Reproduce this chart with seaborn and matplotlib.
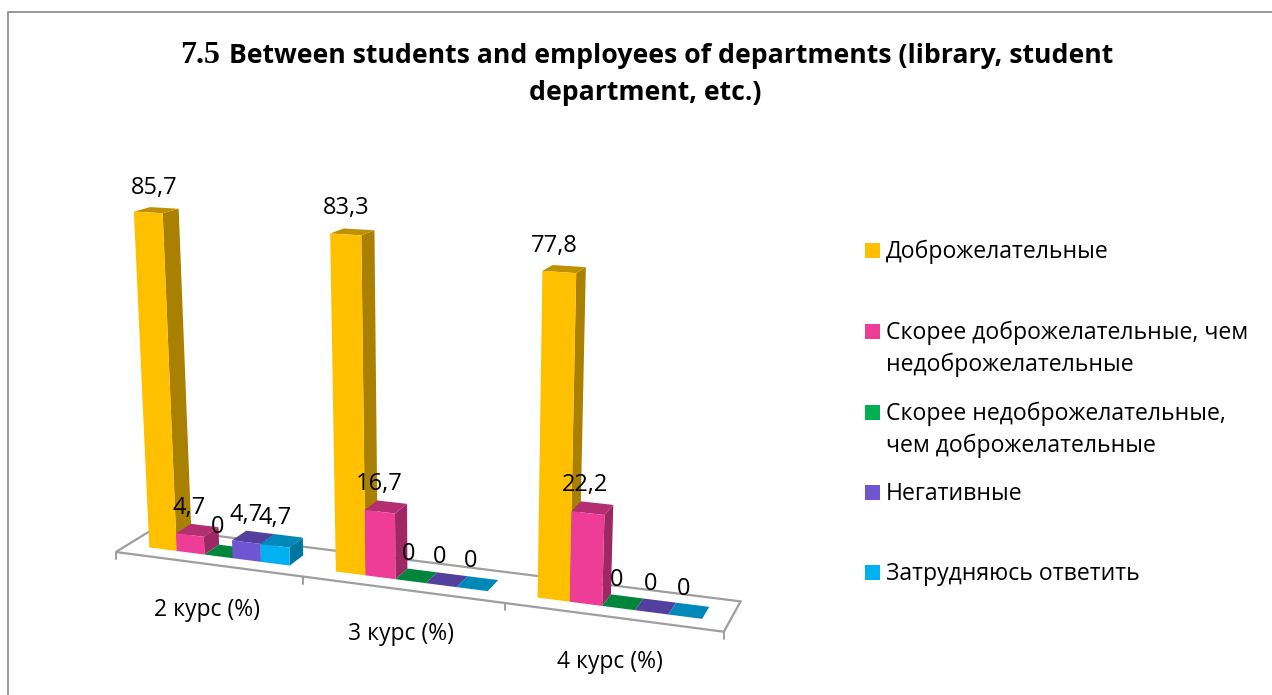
import numpy as np
import pandas as pd
import seaborn as sns
import matplotlib.pyplot as plt
import matplotlib.transforms as mtransforms
from matplotlib.patches import Polygon, Rectangle

categories = ["2 курс (%)", "3 курс (%)", "4 курс (%)"]
series = ["Доброжелательные",
          "Скорее доброжелательные, чем недоброжелательные",
          "Скорее недоброжелательные, чем доброжелательные",
          "Негативные",
          "Затрудняюсь ответить"]
friendly = [85.7, 83.3, 77.8]
rather_friendly = [4.7, 16.7, 22.2]
rather_unfriendly = [0, 0, 0]
negative = [4.7, 0, 0]
no_answer = [4.7, 0, 0]

front_colors = ["#FFC000", "#EE3D96", "#00B050", "#6F55D2", "#00B0F0"]
side_colors = ["#A98000", "#9E2864", "#007535", "#4A388C", "#0076A0"]
top_colors = ["#BF9000", "#B32E72", "#00853C", "#533F9E", "#0088B8"]

W, H = 1272, 695
BAR_SPAN = 0.76
BAR_W = BAR_SPAN / 5
Z_FRONT, Z_BACK = 0.3, 0.7

# the chart is a 3D one, so fit a camera: (x, value, depth) -> picture pixel
# first col is group, second is the bar edge inside the group
bar_calib = [
    (0, 0, 0, Z_FRONT, 148.7, 547.7), (0, 0, 85.7, Z_FRONT, 134, 212), (0, 1, 85.7, Z_FRONT, 163, 213),
    (0, 1, 85.7, Z_BACK, 178.5, 209), (0, 0, 85.7, Z_BACK, 150, 207), (0, 1, 0, Z_FRONT, 176, 550.7),
    (0, 5, 0, Z_FRONT, 291, 565.7), (0, 5, 4.7, Z_FRONT, 291, 546), (0, 5, 4.7, Z_BACK, 303, 538),
    (1, 0, 0, Z_FRONT, 335, 571.7), (1, 0, 83.3, Z_FRONT, 330, 233.3), (1, 1, 83.3, Z_FRONT, 361.7, 235),
    (1, 1, 83.3, Z_BACK, 374, 231), (1, 2, 0, Z_FRONT, 395.7, 578.7), (1, 2, 16.7, Z_FRONT, 395.7, 513),
    (1, 2, 16.7, Z_BACK, 406.7, 504), (1, 5, 0, Z_FRONT, 489, 591), (1, 5, 0, Z_BACK, 498, 580.7),
    (2, 0, 0, Z_FRONT, 536.7, 596.7), (2, 0, 77.8, Z_FRONT, 542, 270.7), (2, 1, 77.8, Z_FRONT, 576.7, 272.7),
    (2, 1, 77.8, Z_BACK, 586, 267), (2, 2, 0, Z_FRONT, 602.7, 605.7), (2, 2, 22.2, Z_FRONT, 604, 515),
    (2, 2, 22.2, Z_BACK, 613, 506), (2, 5, 0, Z_FRONT, 703, 619), (2, 5, 0, Z_BACK, 710, 606.7),
]
floor_calib = [
    (-0.5, 0, 0, 116, 552.7), (0.5, 0, 0, 302, 578), (1.5, 0, 0, 503, 603), (2.5, 0, 0, 723.3, 631.7),
    (2.5, 0, 1, 740, 601.7), (-0.5, 0, 1, 154.7, 527.3),
]
calib = [(g - BAR_SPAN / 2 + BAR_W * k, v, z, u, w) for g, k, v, z, u, w in bar_calib] + floor_calib

rows, rhs = [], []
for x, y, z, u, v in calib:
    rows.append([x, y, z, 1, 0, 0, 0, 0, -u * x, -u * y, -u * z])
    rhs.append(u)
    rows.append([0, 0, 0, 0, x, y, z, 1, -v * x, -v * y, -v * z])
    rhs.append(v)
cam = np.append(np.linalg.lstsq(np.array(rows), np.array(rhs), rcond=None)[0], 1).reshape(3, 4)


def project(x, y, z):
    pts = cam @ np.vstack([x, y, z, np.ones_like(x)])
    return pts[0] / pts[2], pts[1] / pts[2]


class FrontFace(mtransforms.Transform):
    # bars from seaborn stay in data units, this puts them on the front plane
    input_dims = 2
    output_dims = 2
    has_inverse = False

    def transform_non_affine(self, values):
        values = np.asarray(values, dtype=float)
        u, v = project(values[:, 0], values[:, 1], np.full(len(values), Z_FRONT))
        return np.column_stack([u, H - v])


sns.set_theme(style="white")
plt.rcParams['font.family'] = ['Open Sans', 'DejaVu Sans']

df = pd.DataFrame({"course": categories * 5,
                   "series": np.repeat(series, 3),
                   "value": friendly + rather_friendly + rather_unfriendly + negative + no_answer})

fig = plt.figure(figsize=(W / 100, H / 100), dpi=100, facecolor="white")
ax = fig.add_axes([0, 0, 1, 1])
sns.barplot(data=df, x="course", y="value", hue="series", order=categories, hue_order=series,
            palette=front_colors, saturation=1, width=BAR_SPAN, legend=False, ax=ax)
ax.set_axis_off()
bars = sorted(ax.patches, key=lambda p: p.get_x())

px = mtransforms.Affine2D().scale(1, -1).translate(0, H)


def face(points, color, zorder):
    ax.add_patch(Polygon(points, closed=True, facecolor=color, edgecolor="none", transform=px,
                         clip_on=False, zorder=zorder))


# outer frame
ax.plot([8, 8, W], [H, 11.5, 11.5], color="#868686", lw=1.2, transform=px, clip_on=False, zorder=1)

# floor
xs = np.array([-0.5, 2.5, 2.5, -0.5])
zs = np.array([0.0, 0.0, 1.0, 1.0])
fu, fv = project(xs, np.zeros(4), zs)
ax.add_patch(Polygon(np.column_stack([fu, fv]), closed=True, facecolor="white", edgecolor="#9E9E9E", lw=1.6,
                     transform=px, clip_on=False, zorder=2))
tick_x = np.array([-0.5, 0.5, 1.5, 2.5])
tu, tv = project(tick_x, np.zeros(4), np.zeros(4))
for a, b in zip(tu, tv):
    ax.plot([a, a], [b, b + 7], color="#9E9E9E", lw=1.4, transform=px, clip_on=False, zorder=2)

# bars, left to right so the next bar covers the side of the previous one
label_px = [(154, 188), (189, 508), (217.5, 527), (246, 515), (275, 518),
            (346, 208), (379, 484), (409, 554), (440, 557), (471, 561),
            (554, 246), (585, 485), (617, 580), (651, 584), (684, 589)]
front = FrontFace()
for i, bar in enumerate(bars):
    s = i % 5
    z = 10 + i * 3
    x0, x1, val = bar.get_x(), bar.get_x() + bar.get_width(), bar.get_height()
    bar.set_transform(front)
    bar.set_clip_on(False)
    bar.set_linewidth(0)
    bar.set_zorder(z + 2)
    su, sv = project(np.array([x1, x1, x1, x1]), np.array([0, val, val, 0]),
                     np.array([Z_FRONT, Z_FRONT, Z_BACK, Z_BACK]))
    if val > 0:
        face(np.column_stack([su, sv]), side_colors[s], z)
    tu, tv = project(np.array([x0, x1, x1, x0]), np.full(4, val),
                     np.array([Z_FRONT, Z_FRONT, Z_BACK, Z_BACK]))
    face(np.column_stack([tu, tv]), top_colors[s], z + 1)
    ax.text(label_px[i][0], label_px[i][1], f"{val:g}".replace(".", ","), transform=px, fontsize=17,
            color="black", ha="center", va="center", zorder=100)

# category names
cat_px = [(206.5, 610), (400.5, 634), (610, 662)]
for name, (a, b) in zip(categories, cat_px):
    ax.text(a, b, name, transform=px, fontsize=16.5, color="black", ha="center", va="center")

# title, the number is in another font
ax.text(180, 63, "7.5", transform=px, fontsize=23, fontweight="bold", family="Liberation Serif",
        ha="left", va="baseline", color="black")
ax.text(229, 63, "Between students and employees of departments (library, student", transform=px,
        fontsize=19.2, fontweight="bold", ha="left", va="baseline", color="black")
ax.text(645, 100, "department, etc.)", transform=px, fontsize=19.2, fontweight="bold",
        ha="center", va="baseline", color="black")

# legend
legend_y = [250.5, 331, 412, 492, 572.5]
legend_txt = [["Доброжелательные"],
              ["Скорее доброжелательные, чем", "недоброжелательные"],
              ["Скорее недоброжелательные,", "чем доброжелательные"],
              ["Негативные"],
              ["Затрудняюсь ответить"]]
for y, color, lines in zip(legend_y, front_colors, legend_txt):
    ax.add_patch(Rectangle((865, y - 7.5), 15, 15, facecolor=color, edgecolor="none", transform=px, clip_on=False))
    for n, line in enumerate(lines):
        ax.text(886, y + 1.5 + n * 32, line, transform=px, fontsize=16.6, color="black", ha="left", va="center")

fig.savefig("out.png", dpi=100)
